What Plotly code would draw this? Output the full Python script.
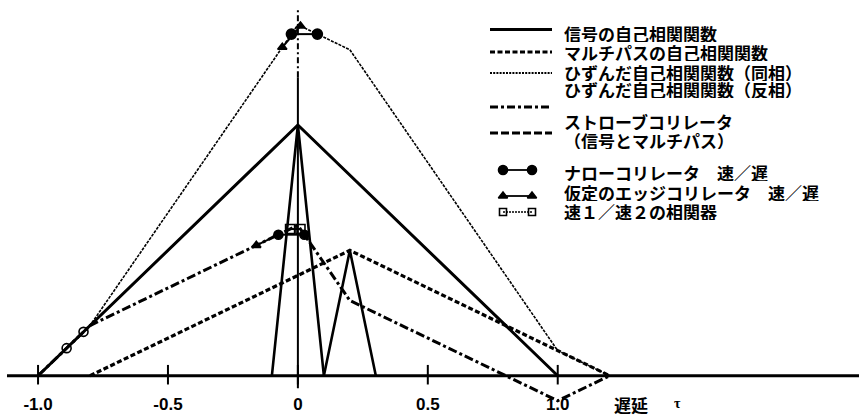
import plotly.graph_objects as go

# ---- data -------------------------------------------------------------
tau_signal = [-1.0, 0.0, 1.0]
signal_acf = [0.0, 1.0, 0.0]

tau_multipath = [-0.8, 0.2, 1.2]
multipath_acf = [0.0, 0.5, 0.0]

tau_distorted = [-1.0, -0.8, 0.0, 0.2, 1.0, 1.2]
distorted_inphase = [0.0, 0.2, 1.4, 1.3, 0.1, 0.0]
distorted_antiphase = [0.0, 0.2, 0.6, 0.3, -0.1, 0.0]

tau_strobe_signal = [-0.1, 0.0, 0.1]
strobe_signal = [0.0, 1.0, 0.0]
tau_strobe_multipath = [0.1, 0.2, 0.3]
strobe_multipath = [0.0, 0.5, 0.0]

# early / late correlator pairs
narrow_inphase_tau = [-0.025, 0.075]
narrow_inphase_val = [1.3625, 1.3625]
narrow_anti_tau = [-0.075, 0.025]
narrow_anti_val = [0.5625, 0.5625]

edge_inphase_tau = [-0.06, 0.01]
edge_inphase_val = [1.31, 1.395]
edge_anti_tau = [-0.16, -0.08]
edge_anti_val = [0.52, 0.56]

fast_top_tau = [-0.03, 0.01]
fast_top_val = [0.585, 0.585]
fast_left_tau = [-0.89, -0.825]
fast_left_val = [0.11, 0.175]

tick_vals = [-1.0, -0.5, 0.0, 0.5, 1.0]
tick_text = ["-1.0", "-0.5", "0", "0.5", "1.0"]

legend_labels = [
    "信号の自己相関関数",
    "マルチパスの自己相関関数",
    "ひずんだ自己相関関数（同相）",
    "ひずんだ自己相関関数（反相）",
    "ストローブコリレータ",
    "（信号とマルチパス）",
    "ナローコリレータ　速／遅",
    "仮定のエッジコリレータ　速／遅",
    "速１／速２の相関器",
]

# ---- styling ------------------------------------------------------------
W, H = 859, 417
X_RANGE = [-1.1464, 2.1594]
Y_RANGE = [-0.1647, 1.4986]
BLACK = "#000000"
JP_FONT = "Noto Sans CJK JP"

fig = go.Figure()


def line(x, y, width, dash="solid"):
    fig.add_trace(go.Scatter(
        x=x, y=y, mode="lines", showlegend=False, hoverinfo="skip",
        line=dict(color=BLACK, width=width, dash=dash),
    ))


def pair(x, y, symbol, size, width=2, dash="solid", xaxis="x", yaxis="y"):
    fig.add_trace(go.Scatter(
        x=x, y=y, mode="lines+markers", showlegend=False, hoverinfo="skip",
        xaxis=xaxis, yaxis=yaxis,
        line=dict(color=BLACK, width=width, dash=dash),
        marker=dict(symbol=symbol, size=size, color=BLACK,
                    line=dict(color=BLACK, width=1.6)),
    ))


# correlation functions
line(tau_multipath, multipath_acf, 3.2, "5px,2.5px")
line(tau_distorted, distorted_inphase, 1.6, "3px,1.2px")
line(tau_distorted, distorted_antiphase, 3, "9px,3px,3px,3px")
line(tau_signal, signal_acf, 3)
line(tau_strobe_signal, strobe_signal, 2.6)
line(tau_strobe_multipath, strobe_multipath, 2.6)

# reference line at zero delay
fig.add_shape(type="line", x0=0, x1=0, y0=-0.05, y1=1.19,
              line=dict(color=BLACK, width=2))
fig.add_shape(type="line", x0=0, x1=0, y0=1.19, y1=1.47,
              line=dict(color=BLACK, width=2, dash="6px,3px,2px,3px"))

# correlator early/late samples
pair(edge_inphase_tau, edge_inphase_val, "triangle-up", 8)
pair(edge_anti_tau, edge_anti_val, "triangle-up", 8)
pair(narrow_inphase_tau, narrow_inphase_val, "circle", 10)
pair(narrow_anti_tau, narrow_anti_val, "circle", 9)
pair(fast_top_tau, fast_top_val, "square-open", 9)
pair(fast_left_tau, fast_left_val, "circle-open", 9)

# delay axis with tick marks
fig.add_shape(type="line", x0=-1.1195, x1=X_RANGE[1], y0=0, y1=0,
              line=dict(color=BLACK, width=3))
for tv in tick_vals:
    fig.add_shape(type="line", x0=tv, x1=tv, y0=-0.035, y1=0.043,
                  line=dict(color=BLACK, width=2))

# ---- key (pixel-space overlay axes) ------------------------------------
KEY_X0, KEY_X1, TEXT_X = 490, 552, 563
key_lines = [
    (29.5, "solid", 3.0),
    (52, "5px,2.5px", 3.2),
    (73, "2px,1.2px", 1.8),
    (107, "8px,3px,3px,3px", 3.0),
    (133, "8px,3px", 3.0),
]
for yk, dash, wdt in key_lines:
    fig.add_trace(go.Scatter(
        x=[KEY_X0, KEY_X1], y=[yk, yk], mode="lines", xaxis="x2", yaxis="y2",
        showlegend=False, hoverinfo="skip",
        line=dict(color=BLACK, width=wdt, dash=dash),
    ))
pair([503, 532], [170, 170], "circle", 9, width=1.8, xaxis="x2", yaxis="y2")
pair([503, 532], [196, 196], "triangle-up", 8, width=1.8, xaxis="x2", yaxis="y2")
pair([503, 532], [212, 212], "square-open", 7, width=1.5, dash="2px,1px",
     xaxis="x2", yaxis="y2")

label_rows = [33, 52, 72, 89, 121, 140, 172, 192, 211]
for text, yr in zip(legend_labels, label_rows):
    fig.add_annotation(
        x=TEXT_X, y=yr, xref="x2", yref="y2", text=f"<b>{text}</b>",
        showarrow=False, xanchor="left", yanchor="middle", height=17,
        borderpad=0,
        font=dict(family=JP_FONT, size=17, color=BLACK),
    )

fig.add_annotation(x=612, y=404, xref="x2", yref="y2", text="<b>遅延</b>",
                   showarrow=False, xanchor="left", yanchor="middle",
                   font=dict(family=JP_FONT, size=17, color=BLACK))
fig.add_annotation(x=677, y=403, xref="x2", yref="y2", text="<b>τ</b>",
                   showarrow=False, xanchor="center", yanchor="middle",
                   font=dict(family="Liberation Serif", size=14, color=BLACK))

fig.update_layout(
    width=W, height=H,
    margin=dict(l=0, r=0, t=0, b=0),
    paper_bgcolor="white", plot_bgcolor="white",
    showlegend=False,
    xaxis=dict(range=X_RANGE, showgrid=False, zeroline=False, showline=False,
               tickvals=tick_vals, ticktext=[f"<b>{t}</b>" for t in tick_text],
               ticks="", anchor="free", position=(H - 375.7) / H,
               automargin=False, ticklabelstandoff=16,
               tickfont=dict(family="Liberation Sans", size=17, color=BLACK)),
    yaxis=dict(range=Y_RANGE, visible=False),
    xaxis2=dict(range=[0, W], overlaying="x", visible=False),
    yaxis2=dict(range=[H, 0], overlaying="y", visible=False),
)

fig.write_html("out.html")
